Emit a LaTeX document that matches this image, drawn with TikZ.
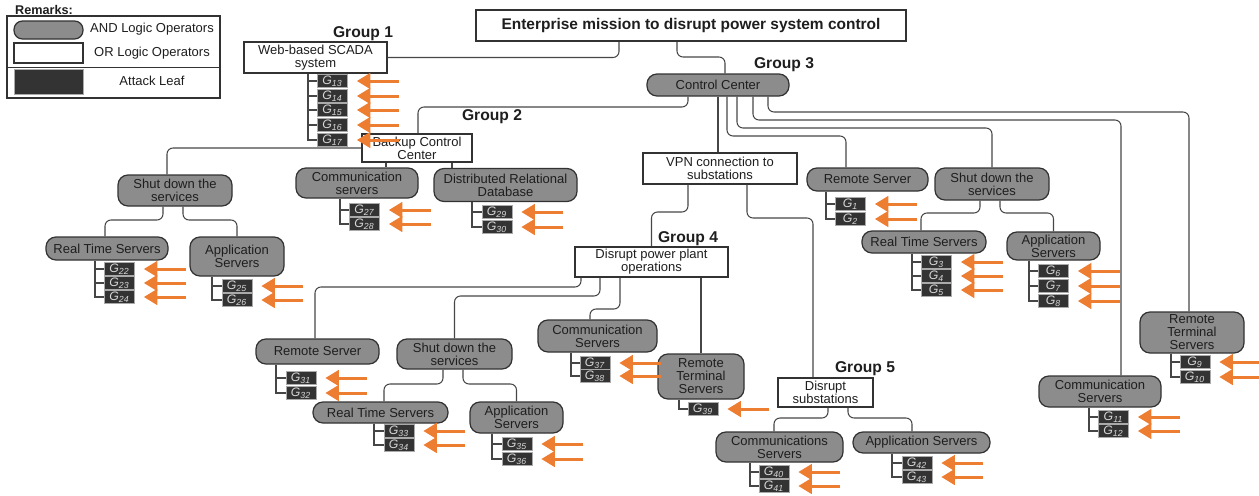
\documentclass[tikz,border=0pt]{standalone}
\usepackage{fontspec}
\setmainfont{Liberation Sans}
\usetikzlibrary{arrows.meta}
\definecolor{andgray}{RGB}{140,140,140}
\definecolor{edge}{RGB}{50,50,50}
\definecolor{wire}{RGB}{70,70,70}
\definecolor{ink}{RGB}{30,30,30}
\definecolor{leafgray}{RGB}{51,51,51}
\definecolor{leaftext}{RGB}{215,215,215}
\definecolor{leafedge}{RGB}{170,170,170}
\definecolor{attack}{RGB}{237,125,49}
\tikzset{
  wh/.style 2 args={minimum width=#1*0.02cm, minimum height=#2*0.02cm},
  andop/.style={draw=edge, fill=andgray, line width=0.7pt, rounded corners=0.2cm, inner sep=0pt, align=center, text=ink},
  orop/.style={draw=edge, fill=white, line width=0.7pt, inner sep=0pt, align=center, text=ink},
  leaf/.style={draw=leafedge, fill=leafgray, line width=0.4pt, text=leaftext, inner sep=0pt, wh={30}{12.5}, font=\fontsize{7}{7}\selectfont\itshape},
  grp/.style={font=\fontsize{8.9}{9}\selectfont\bfseries, text=ink, inner sep=0pt},
  link/.style={draw=wire, line width=0.6pt, rounded corners=0.12cm},
  spine/.style={draw=wire, line width=0.6pt},
  atk/.style={draw=attack, line width=0.06cm, -{Triangle[length=0.27cm,width=0.31cm]}, shorten >=0.18cm},
}
\begin{document}
\begin{tikzpicture}[x=0.02cm, y=-0.02cm, font=\fontsize{7.4}{7.4}\selectfont]
    \useasboundingbox (0,0) rectangle (1259,495);
    % legend
    \node[font=\fontsize{7.2}{7}\selectfont\bfseries, text=ink, inner sep=0pt] (remarks) at (44,10) {Remarks:};
    \draw[draw=edge, line width=0.7pt] (7,16) rectangle (220,98);
    \draw[draw=edge, line width=0.5pt] (7,67) -- (220,67);
    \node[andop, wh={69}{18}, rounded corners=0.17cm] (keyand) at (48.5,30) {};
    \node[orop, wh={69}{20}] (keyor) at (48.5,53) {};
    \node[leaf, wh={69}{25}] (keyleaf) at (48.5,81.5) {};
    \node[text=ink] (keyandtxt) at (152,29) {AND Logic Operators};
    \node[text=ink] (keyortxt) at (152,53) {OR Logic Operators};
    \node[text=ink] (keyleaftxt) at (152,81) {Attack Leaf};
    % OR operators
    \node[orop, wh={430}{31}, line width=1pt, font=\fontsize{8.8}{9}\selectfont\bfseries] (mission) at (691,25.5) {Enterprise mission to disrupt power system control};
    \node[orop, wh={143}{31}] (scada) at (315.5,57.5) {Web-based SCADA\\system};
    \node[orop, wh={110}{28}] (backup) at (417,148) {Backup Control\\Center};
    \node[orop, wh={154}{31}] (vpn) at (720,168.5) {VPN connection to\\substations};
    \node[orop, wh={153}{30}] (plant) at (651.5,262) {Disrupt power plant\\operations};
    \node[orop, wh={95}{29}] (subst) at (825.5,392.5) {Disrupt\\substations};
    % group labels
    \node[grp] (grp1) at (363,34) {Group 1};
    \node[grp] (grp2) at (492,117) {Group 2};
    \node[grp] (grp3) at (784,65) {Group 3};
    \node[grp] (grp4) at (688,239) {Group 4};
    \node[grp] (grp5) at (865,369) {Group 5};
    % AND operators
    \node[andop, wh={142}{22}] (control) at (718,85) {Control Center};
    \node[andop, wh={114}{31}] (shutB) at (175,190.5) {Shut down the\\services};
    \node[andop, wh={122}{23}] (rtsB) at (107,248.5) {Real Time Servers};
    \node[andop, wh={94}{39}] (appB) at (237,256.5) {Application\\Servers};
    \node[andop, wh={122}{30}] (commB) at (357,183) {Communication\\servers};
    \node[andop, wh={143}{33}] (dbB) at (505.5,185) {Distributed Relational\\Database};
    \node[andop, wh={121}{23}] (remC) at (867.5,179.5) {Remote Server};
    \node[andop, wh={114}{32}] (shutC) at (992,184) {Shut down the\\services};
    \node[andop, wh={124}{22}] (rtsC) at (924,242) {Real Time Servers};
    \node[andop, wh={93}{28}] (appC) at (1053.5,246) {Application\\Servers};
    \node[andop, wh={104}{41}] (rtuC) at (1192,332.5) {Remote\\Terminal\\Servers};
    \node[andop, wh={122}{31}] (commC) at (1100,391.5) {Communication\\Servers};
    \node[andop, wh={123}{25}] (remD) at (317.5,351.5) {Remote Server};
    \node[andop, wh={115}{30}] (shutD) at (454.5,354) {Shut down the\\services};
    \node[andop, wh={135}{21}] (rtsD) at (380.5,412.5) {Real Time Servers};
    \node[andop, wh={93}{31}] (appD) at (516.5,417.5) {Application\\Servers};
    \node[andop, wh={119}{32}] (commD) at (597.5,336) {Communication\\Servers};
    \node[andop, wh={86}{45}] (rtuD) at (701,376.5) {Remote\\Terminal\\Servers};
    \node[andop, wh={127}{30}] (commE) at (779.5,447) {Communications\\Servers};
    \node[andop, wh={137}{21}] (appE) at (921.5,442.5) {Application Servers};
    % tree links
    \draw[link] (619,0 |- mission.south) |- (scada.east);
    \draw[link] (677,0 |- mission.south) -- (677,57) -| (725,0 |- control.north);
    \draw[link] (688,0 |- control.south) -- (688,107) -| (418,0 |- backup.north);
    \draw[link] (control.south) -- (control.south |- vpn.north);
    \draw[link] (727,0 |- control.south) -- (727,136) -| (846,0 |- remC.north);
    \draw[link] (737,0 |- control.south) -- (737,128) -| (shutC.north);
    \draw[link] (753,0 |- control.south) -- (753,120) -| (1121,0 |- commC.north);
    \draw[link] (768,0 |- control.south) -- (768,112) -| (1189,0 |- rtuC.north);
    \draw[link] (backup.west) -| (167,0 |- shutB.north);
    \draw[link] (386,0 |- backup.south) -- (386,0 |- commB.north);
    \draw[link] (452,0 |- backup.south) -- (452,0 |- dbB.north);
    \draw[link] (163,0 |- shutB.south) -- (163,220) -| (105,0 |- rtsB.north);
    \draw[link] (183,0 |- shutB.south) -- (183,220) -| (appB.north);
    \draw[link] (980,0 |- shutC.south) -- (980,213) -| (921,0 |- rtsC.north);
    \draw[link] (1000,0 |- shutC.south) -- (1000,213) -| (appC.north);
    \draw[link] (688,0 |- vpn.south) -- (688,212) -| (plant.north);
    \draw[link] (747,0 |- vpn.south) -- (747,218) -| (813,0 |- subst.north);
    \draw[link] (581,0 |- plant.south) -- (581,287) -| (315,0 |- remD.north);
    \draw[link] (600,0 |- plant.south) -- (600,296) -| (shutD.north);
    \draw[link] (620,0 |- plant.south) -- (620,309) -| (590,0 |- commD.north);
    \draw[link] (701,0 |- plant.south) -- (rtuD.north);
    \draw[link] (443,0 |- shutD.south) -- (443,384) -| (384,0 |- rtsD.north);
    \draw[link] (463,0 |- shutD.south) -- (463,384) -| (appD.north);
    \draw[link] (828,0 |- subst.south) -- (828,418) -| (774,0 |- commE.north);
    \draw[link] (848,0 |- subst.south) -- (848,418) -| (912,0 |- appE.north);
    % attack leaves
    \foreach \pnode/\sx/\lx/\ls in {
        scada/308/332.5/{13/81,14/96,15/110,16/125,17/140},
        rtsB/95/119.5/{22/269,23/283,24/297},
        appB/212/237/{25/286,26/300},
        commB/340/364.5/{27/210,28/224},
        dbB/472/497/{29/212,30/227},
        remC/826/850.5/{1/204,2/219},
        rtsC/912/936.5/{3/262,4/276,5/290},
        appC/1029/1053.5/{6/271,7/286,8/301},
        rtuC/1171/1195/{9/362,10/377},
        commC/1089/1113.5/{11/417,12/431},
        remD/276/301/{31/378,32/393},
        rtsD/374/399/{33/431,34/445},
        appD/492/517/{35/444,36/459},
        commD/571/595/{37/363,38/376},
        rtuD/679/703/{39/409},
        commE/750/774/{40/472,41/486},
        appE/892/917/{42/463,43/477}}{
        \foreach \n/\y in \ls {
            \node[leaf] (G\n) at (\lx,\y) {G\textsubscript{\n}};
            \draw[spine] (\sx,0 |- \pnode.south) |- (G\n.west);
            \draw[atk] ([xshift=1.02cm]G\n.east) -- (G\n.east);
        }
    }
\end{tikzpicture}
\end{document}
